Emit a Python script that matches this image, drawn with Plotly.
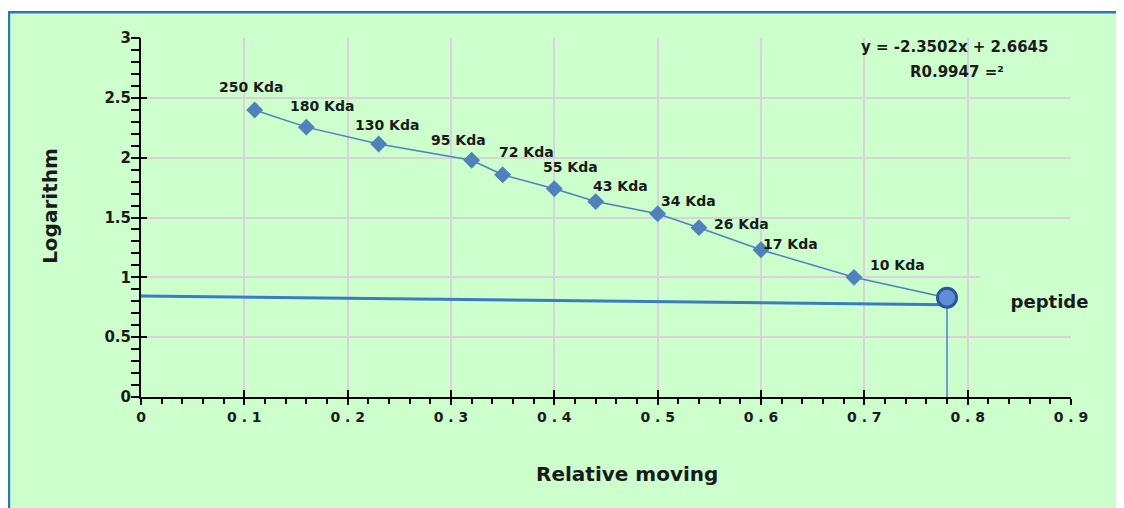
import plotly.graph_objects as go

# ---- data ----
labels = ["250 Kda", "180 Kda", "130 Kda", "95 Kda", "72 Kda", "55 Kda",
          "43 Kda", "34 Kda", "26 Kda", "17 Kda", "10 Kda"]
rel_moving = [0.11, 0.16, 0.23, 0.32, 0.35, 0.40, 0.44, 0.50, 0.54, 0.60, 0.69]
log_mw = [2.398, 2.255, 2.114, 1.978, 1.857, 1.740, 1.633, 1.531, 1.415, 1.230, 1.000]
peptide_x = [0.78]
peptide_y = [0.83]
guide_h_x = [0.0, 0.78]
guide_h_y = [0.845, 0.77]
guide_v_x = [0.78, 0.78]
guide_v_y = [0.83, 0.0]
equation = "y = -2.3502x + 2.6645"
r2_text = "R0.9947 =²"
x_title = "Relative moving"
y_title = "Logarithm"
x_ticks = [0, 0.1, 0.2, 0.3, 0.4, 0.5, 0.6, 0.7, 0.8, 0.9]
x_ticklabels = ["0", "0 . 1", "0 . 2", "0 . 3", "0 . 4", "0 . 5", "0 . 6", "0 . 7", "0 . 8", "0 . 9"]
y_ticks = [0, 0.5, 1, 1.5, 2, 2.5, 3]
y_ticklabels = ["0", "0.5", "1", "1.5", "2", "2.5", "3"]

# ---- styles ----
label_shift_x = [-4, 16, 8, -13, 24, 16, 25, 31, 42, 29, 43]
label_shift_y = [23, 21, 19, 20, 23, 22, 16, 13, 4, 6, 12]
FONT = "DejaVu Sans"
TXT = "#1a1a1a"
GREEN = "#CCFFCC"
BLUE = "#4F81BD"
GRID = "#DAD2DA"

fig = go.Figure()

fig.add_trace(go.Scatter(
    x=guide_h_x, y=guide_h_y, mode="lines",
    line=dict(color="#3A7CC4", width=3), hoverinfo="skip", showlegend=False))
fig.add_trace(go.Scatter(
    x=guide_v_x, y=guide_v_y, mode="lines",
    line=dict(color="#4A80C8", width=1.5), hoverinfo="skip", showlegend=False))

fig.add_trace(go.Scatter(
    x=rel_moving + peptide_x, y=log_mw + peptide_y, mode="lines",
    line=dict(color=BLUE, width=1.5), showlegend=False))
fig.add_trace(go.Scatter(
    x=rel_moving, y=log_mw, mode="markers",
    marker=dict(symbol="diamond", size=13, color=BLUE),
    showlegend=False))
fig.add_trace(go.Scatter(
    x=peptide_x, y=peptide_y, mode="markers",
    marker=dict(symbol="circle", size=19, color="#5B8FD9",
                line=dict(color="#2F5597", width=3)),
    showlegend=False))

for lab, xv, yv, sx, sy in zip(labels, rel_moving, log_mw, label_shift_x, label_shift_y):
    fig.add_annotation(x=xv, y=yv, text=f"<b>{lab}</b>", showarrow=False,
                       xshift=sx, yshift=sy,
                       font=dict(family=FONT, size=14, color=TXT))

fig.add_annotation(x=peptide_x[0], y=peptide_y[0], text="<b>peptide</b>", showarrow=False,
                   xref="x", yref="y", xshift=102, yshift=-3,
                   width=135, height=54, bgcolor=GREEN,
                   font=dict(family=FONT, size=18, color=TXT))

fig.add_annotation(xref="paper", yref="paper", x=0.875, y=0.975,
                   text=f"<b>{equation}</b>", showarrow=False,
                   xanchor="center", yanchor="middle",
                   font=dict(family=FONT, size=15, color=TXT))
fig.add_annotation(xref="paper", yref="paper", x=0.877, y=0.905,
                   text=f"<b>{r2_text}</b>", showarrow=False,
                   xanchor="center", yanchor="middle",
                   font=dict(family=FONT, size=15, color=TXT))

# axis titles
fig.add_annotation(xref="paper", yref="paper", x=0.5226, y=-0.214,
                   text=f"<b>{x_title}</b>", showarrow=False,
                   xanchor="center", yanchor="middle",
                   font=dict(family=FONT, size=20, color=TXT))
fig.add_annotation(xref="paper", yref="paper", x=-0.098, y=0.532,
                   text=f"<b>{y_title}</b>", showarrow=False, textangle=-90,
                   xanchor="center", yanchor="middle",
                   font=dict(family=FONT, size=20, color=TXT))

# white strip above the chart frame, then the frame itself
fig.add_shape(type="rect", xref="paper", yref="paper",
              x0=-0.3, x1=1.3, y0=1.072, y1=1.3,
              fillcolor="white", line=dict(width=0), layer="below")
fig.add_shape(type="rect", xref="paper", yref="paper",
              x0=-0.142, x1=1.3, y0=-0.6, y1=1.072,
              fillcolor="rgba(0,0,0,0)", line=dict(color="#2E75B6", width=2.5), layer="below")

axis_common = dict(showline=True, linecolor="black", linewidth=2, zeroline=False)

fig.update_layout(
    width=1116, height=500,
    margin=dict(l=133, r=53, t=30, b=111, autoexpand=False),
    paper_bgcolor=GREEN, plot_bgcolor="rgba(0,0,0,0)",
    font=dict(family=FONT, color=TXT),
    xaxis=dict(range=[0, 0.9], tickvals=x_ticks,
               ticktext=[f"<b>{t}</b>" for t in x_ticklabels],
               showgrid=True, gridcolor=GRID, gridwidth=1.5,
               ticks="outside", ticklen=6, tickwidth=2, tickcolor="black",
               minor=dict(dtick=0.02, ticks="outside", ticklen=5, tickwidth=1.5,
                          tickcolor="black", showgrid=False),
               tickfont=dict(family=FONT, size=14, color=TXT),
               **axis_common),
    yaxis=dict(range=[0, 3], tickvals=y_ticks,
               ticktext=[f"<b>{t}</b>" for t in y_ticklabels],
               showgrid=True, gridcolor=GRID, gridwidth=1.5,
               ticks="inside", ticklen=6, tickwidth=2, tickcolor="black",
               ticklabelstandoff=5,
               minor=dict(dtick=0.1, ticks="outside", ticklen=8, tickwidth=1.5,
                          tickcolor="black", showgrid=False),
               tickfont=dict(family=FONT, size=15, color=TXT),
               **axis_common),
    xaxis2=dict(range=[0, 0.9], overlaying="x", anchor="y", side="bottom",
                tickvals=x_ticks, showticklabels=False, showgrid=False,
                ticks="inside", ticklen=7, tickwidth=2, tickcolor="black",
                zeroline=False, showline=False),
    yaxis2=dict(range=[0, 3], overlaying="y", anchor="x", side="left",
                tickvals=y_ticks, showticklabels=False, showgrid=False,
                ticks="outside", ticklen=9, tickwidth=2, tickcolor="black",
                zeroline=False, showline=False),
)

# invisible trace to activate the overlay (crossing-tick) axes
fig.add_trace(go.Scatter(x=[0], y=[0], xaxis="x2", yaxis="y2", mode="markers",
                         marker=dict(opacity=0), hoverinfo="skip", showlegend=False))

fig.write_html("out.html")
